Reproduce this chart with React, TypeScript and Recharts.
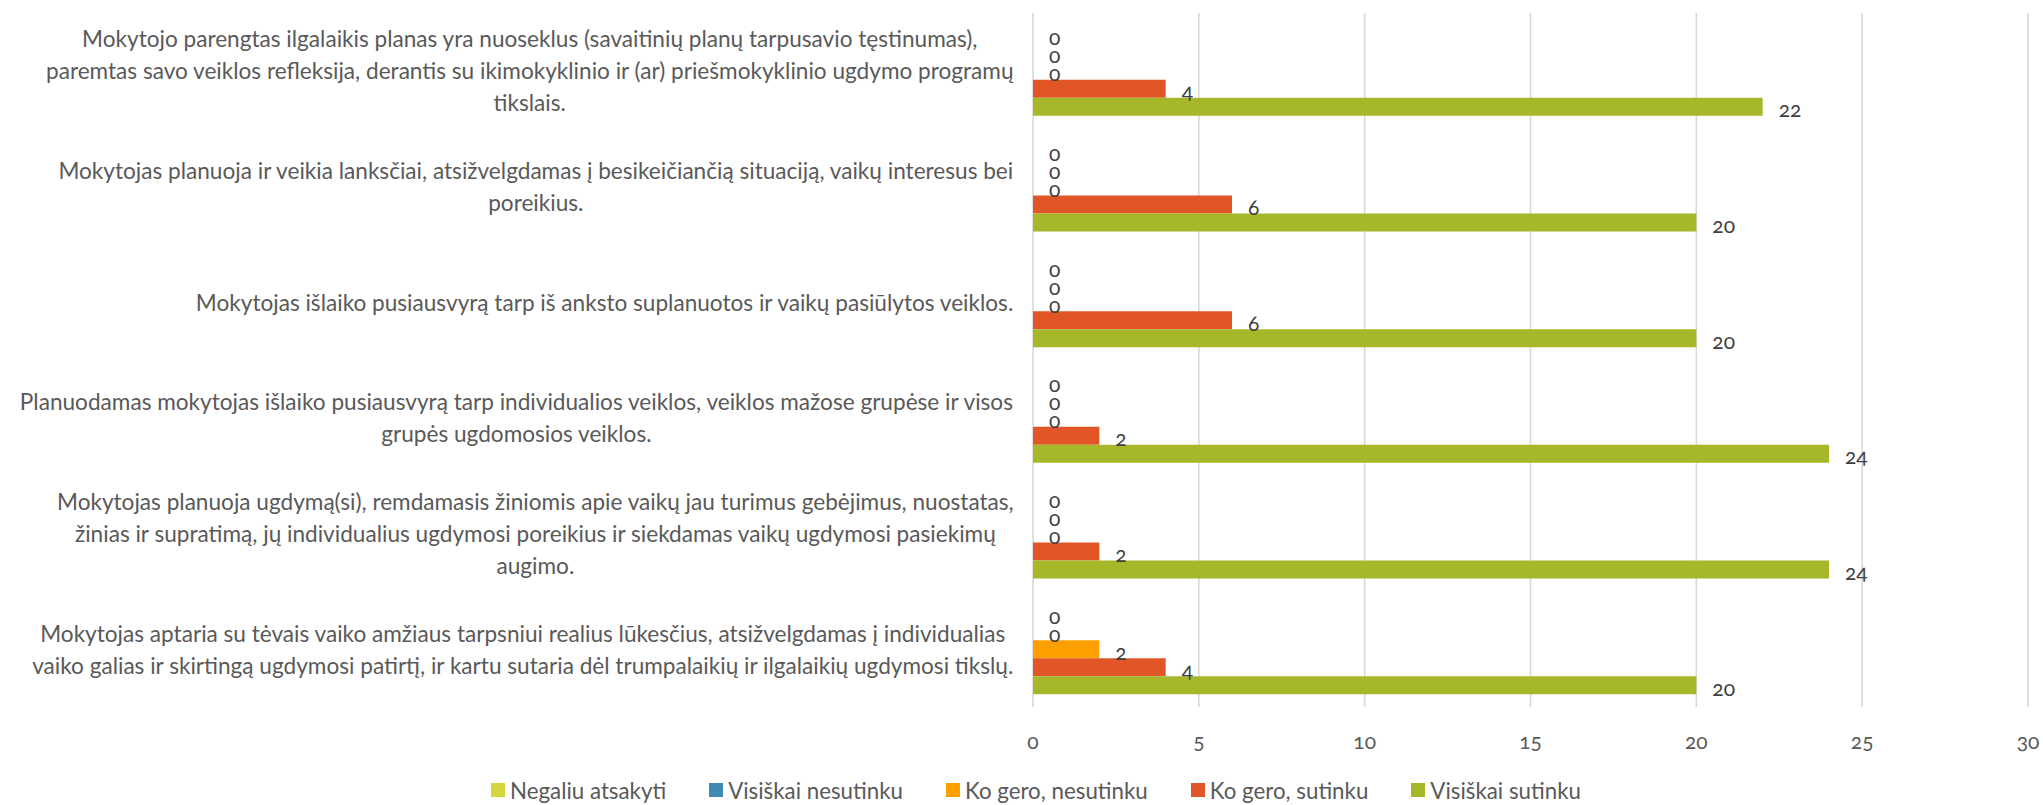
import React from 'react';
import { BarChart, Bar, XAxis, YAxis, CartesianGrid, Legend, LabelList } from 'recharts';

const categoryLines: string[][] = [
  [
    'Mokytojo parengtas ilgalaikis planas yra nuoseklus (savaitinių planų tarpusavio tęstinumas),',
    'paremtas savo veiklos refleksija, derantis su ikimokyklinio ir (ar) priešmokyklinio ugdymo programų',
    'tikslais.',
  ],
  [
    'Mokytojas planuoja ir veikia lanksčiai, atsižvelgdamas į besikeičiančią situaciją, vaikų interesus bei',
    'poreikius.',
  ],
  ['Mokytojas išlaiko pusiausvyrą tarp iš anksto suplanuotos ir vaikų pasiūlytos veiklos.'],
  [
    'Planuodamas mokytojas išlaiko pusiausvyrą tarp individualios veiklos, veiklos mažose grupėse ir visos',
    'grupės ugdomosios veiklos.',
  ],
  [
    'Mokytojas planuoja ugdymą(si), remdamasis žiniomis apie vaikų jau turimus gebėjimus, nuostatas,',
    'žinias ir supratimą, jų individualius ugdymosi poreikius ir siekdamas vaikų ugdymosi pasiekimų',
    'augimo.',
  ],
  [
    'Mokytojas aptaria su tėvais vaiko amžiaus tarpsniui realius lūkesčius, atsižvelgdamas į individualias',
    'vaiko galias ir skirtingą ugdymosi patirtį, ir kartu sutaria dėl trumpalaikių ir ilgalaikių ugdymosi tikslų.',
  ],
];
const categories = categoryLines.map((l) => l.join(' '));

const seriesNames = [
  'Negaliu atsakyti',
  'Visiškai nesutinku',
  'Ko gero, nesutinku',
  'Ko gero, sutinku',
  'Visiškai sutinku',
];
const negaliuAtsakyti = [0, 0, 0, 0, 0, 0];
const visiskaiNesutinku = [0, 0, 0, 0, 0, 0];
const koGeroNesutinku = [0, 0, 0, 0, 0, 2];
const koGeroSutinku = [4, 6, 6, 2, 2, 4];
const visiskaiSutinku = [22, 20, 20, 24, 24, 20];
const xTicks = [0, 5, 10, 15, 20, 25, 30];
const colors = ['#D5D540', '#418AB3', '#FE9F00', '#E15527', '#A6B82A'];

const seriesValues = [negaliuAtsakyti, visiskaiNesutinku, koGeroNesutinku, koGeroSutinku, visiskaiSutinku];
const keys = ['s0', 's1', 's2', 's3', 's4'];

const data = categories.map((c, i) => {
  const row: Record<string, string | number> = { category: c };
  keys.forEach((k, j) => {
    row[k] = seriesValues[j][i];
  });
  return row;
});

const W = 2043;
const H = 805;
const PLOT_LEFT = 1033;
const PLOT_RIGHT = 2028;
const PLOT_TOP = 13;
const PLOT_BOTTOM = 707;
const LEGEND_H = 30;
const FONT = 'Lato, "Open Sans", sans-serif';
const CAT_FONT_SIZE = 22.6;
const LINE_H = 32;

let ctx: CanvasRenderingContext2D | null = null;
function measure(text: string, size: number): number {
  if (!ctx) {
    const c = document.createElement('canvas');
    ctx = c.getContext('2d');
  }
  if (!ctx) return text.length * size * 0.48;
  ctx.font = `${size}px Lato`;
  return ctx.measureText(text).width;
}

const CategoryTick = (props: any) => {
  const { y, payload } = props;
  const idx = categories.indexOf(payload.value);
  const lines = idx >= 0 ? categoryLines[idx] : [String(payload.value)];
  const blockW = Math.max(...lines.map((l) => measure(l, CAT_FONT_SIZE)));
  const right = PLOT_LEFT - 19;
  const cx = right - blockW / 2;
  const startY = y - ((lines.length - 1) * LINE_H) / 2;
  return (
    <g>
      {lines.map((l, i) => (
        <text
          key={i}
          x={cx}
          y={startY + i * LINE_H}
          textAnchor="middle"
          dominantBaseline="central"
          fill="#595959"
          fontSize={CAT_FONT_SIZE}
          fontFamily={FONT}
        >
          {l}
        </text>
      ))}
    </g>
  );
};

const ValueTick = (props: any) => {
  const { x, payload } = props;
  return (
    <text
      x={x}
      y={PLOT_BOTTOM + 33}
      textAnchor="middle"
      dominantBaseline="central"
      fill="#595959"
      fontSize={21}
      fontFamily={FONT}
      style={{ fontVariantNumeric: 'oldstyle-nums' }}
    >
      {payload.value}
    </text>
  );
};

const renderValueLabel = (props: any) => {
  const { x, y, width, height, value } = props;
  const w = Number(value) === 0 ? 0 : Number(width);
  return (
    <text
      x={Number(x) + w + 16}
      y={Number(y) + Number(height) / 2 + 2}
      textAnchor="start"
      dominantBaseline="central"
      fill="#404040"
      fontSize={21}
      fontFamily={FONT}
      style={{ fontVariantNumeric: 'oldstyle-nums' }}
    >
      {value}
    </text>
  );
};

const renderLegend = () => (
  <div
    style={{
      display: 'flex',
      justifyContent: 'center',
      alignItems: 'center',
      height: LEGEND_H,
      gap: 43,
      fontFamily: FONT,
      fontSize: 22.3,
      color: '#595959',
      paddingLeft: 44,
      boxSizing: 'border-box',
    }}
  >
    {seriesNames.map((n, i) => (
      <div key={n} style={{ display: 'flex', alignItems: 'center' }}>
        <span style={{ display: 'inline-block', width: 14, height: 14, background: colors[i], marginRight: 5 }} />
        <span>{n}</span>
      </div>
    ))}
  </div>
);

export default function App() {
  return (
    <div style={{ position: 'absolute', left: 0, top: 0, width: W, height: H, background: '#fff' }}>
      <BarChart
        width={W}
        height={H}
        data={data}
        layout="vertical"
        margin={{ top: PLOT_TOP, right: W - PLOT_RIGHT, bottom: 0, left: 0 }}
        barCategoryGap="11.1%"
        barGap={0}
      >
        <CartesianGrid horizontal={false} vertical={true} stroke="#D9D9D9" strokeWidth={1.6} />
        <XAxis
          type="number"
          domain={[0, 30]}
          ticks={xTicks}
          axisLine={false}
          tickLine={false}
          height={H - PLOT_BOTTOM - LEGEND_H}
          tick={<ValueTick />}
          interval={0}
        />
        <YAxis
          type="category"
          dataKey="category"
          width={PLOT_LEFT}
          axisLine={false}
          tickLine={false}
          tick={<CategoryTick />}
          interval={0}
        />
        <Legend verticalAlign="bottom" height={LEGEND_H} content={renderLegend} />
        {keys.map((k, i) => (
          <Bar
            key={k}
            dataKey={k}
            name={seriesNames[i]}
            fill={colors[i]}
            minPointSize={0.01}
            isAnimationActive={false}
          >
            <LabelList dataKey={k} content={renderValueLabel} />
          </Bar>
        ))}
      </BarChart>
    </div>
  );
}
